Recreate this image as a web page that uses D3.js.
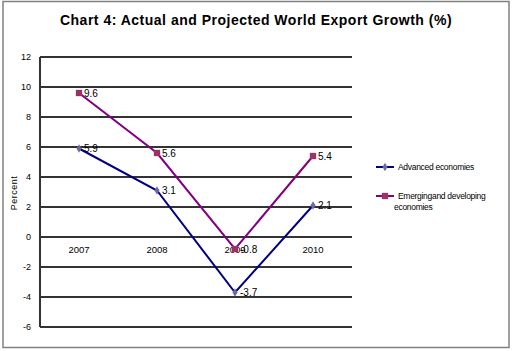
<!DOCTYPE html>
<html>
<head>
<meta charset="utf-8">
<script src="https://cdn.jsdelivr.net/npm/d3@7"></script>
<style>
  body { margin: 0; background: #fff; }
  svg { display: block; font-family: Arial, "Liberation Sans", sans-serif; }
</style>
</head>
<body>
<svg id="chart" width="512" height="351"></svg>
<script>
const years = ["2007", "2008", "2009", "2010"];
const advanced = [5.9, 3.1, -3.7, 2.1];
const emerging = [9.6, 5.6, -0.8, 5.4];
const yTicks = [-6, -4, -2, 0, 2, 4, 6, 8, 10, 12];

const svg = d3.select("#chart");

// outer frame
svg.append("rect").attr("x", 3).attr("y", 1.5).attr("width", 506).attr("height", 346)
   .attr("fill", "#fff").attr("stroke", "#808080").attr("stroke-width", 1.5);

svg.append("text").attr("x", 256).attr("y", 25).attr("text-anchor", "middle")
   .style("font-size", "14px").style("font-weight", "bold").style("letter-spacing", "0.5px")
   .text("Chart 4: Actual and Projected World Export Growth (%)");

const x = d3.scaleBand().domain(years).range([40, 352]);
const y = d3.scaleLinear().domain([-6, 12]).range([327, 57]);

// gridlines
svg.append("g").selectAll("line").data(yTicks).join("line")
   .attr("x1", 40).attr("x2", 352).attr("y1", d => y(d)).attr("y2", d => y(d))
   .attr("stroke", "#333").attr("stroke-width", 2);
svg.append("line").attr("x1", 40).attr("x2", 40).attr("y1", y(12)).attr("y2", y(-6))
   .attr("stroke", "#333").attr("stroke-width", 2);

// y axis labels
svg.append("g").selectAll("text").data(yTicks).join("text")
   .attr("x", 31).attr("y", d => y(d)).attr("dy", "0.35em").attr("text-anchor", "end")
   .style("font-size", "9px").text(d => d);

svg.append("text").attr("transform", "translate(17,193) rotate(-90)").attr("text-anchor", "middle")
   .style("font-size", "9px").style("letter-spacing", "0.5px").text("Percent");

// category labels below zero line
svg.append("g").selectAll("text").data(years).join("text")
   .attr("x", d => x(d) + x.bandwidth() / 2).attr("y", y(0) + 16).attr("text-anchor", "middle")
   .style("font-size", "9.5px").text(d => d);

const cx = i => x(years[i]) + x.bandwidth() / 2;
const line = d3.line().x((d, i) => cx(i)).y(d => y(d));

const series = [
  { name: "Advanced economies", values: advanced, color: "#000080", marker: "#6b6ba3", shape: d3.symbolDiamond, size: 22 },
  { name: "Emergingand developing", name2: "economies", values: emerging, color: "#800080", marker: "#993366", shape: d3.symbolSquare, size: 40 }
];

series.forEach(s => {
  svg.append("path").datum(s.values).attr("d", line).attr("fill", "none")
     .attr("stroke", s.color).attr("stroke-width", 2);
  svg.append("g").selectAll("path").data(s.values).join("path")
     .attr("transform", (d, i) => `translate(${cx(i)},${y(d)})`)
     .attr("d", d3.symbol().type(s.shape).size(s.size)).attr("fill", s.marker);
  svg.append("g").selectAll("text").data(s.values).join("text")
     .attr("x", (d, i) => cx(i) + 5).attr("y", d => y(d)).attr("dy", "0.35em")
     .style("font-size", "10px").text(d => d);
});

// legend
const legY = [167, 196];
series.forEach((s, i) => {
  const g = svg.append("g").attr("transform", `translate(376,${legY[i]})`);
  g.append("line").attr("x1", 0).attr("x2", 18).attr("stroke", s.color).attr("stroke-width", 2);
  g.append("path").attr("transform", "translate(9,0)").attr("d", d3.symbol().type(s.shape).size(s.size)).attr("fill", s.marker);
  g.append("text").attr("x", 22).attr("dy", "0.35em").style("font-size", "8.5px").style("letter-spacing", "-0.3px").text(s.name);
  if (s.name2) g.append("text").attr("x", 18).attr("y", 11).attr("dy", "0.35em").style("font-size", "8.5px").style("letter-spacing", "-0.3px").text(s.name2);
});
</script>
</body>
</html>
